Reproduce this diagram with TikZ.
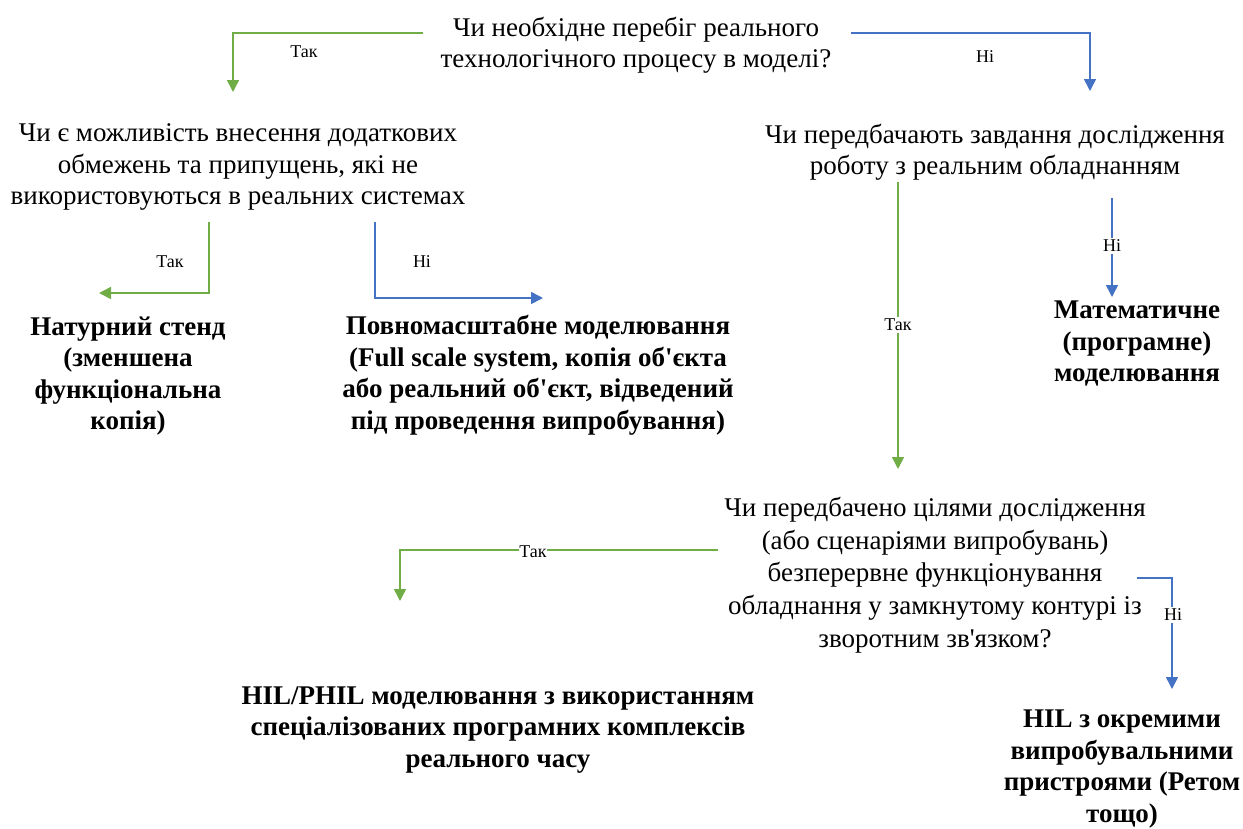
\documentclass[tikz,border=0pt]{standalone}
\usepackage{fontspec}
\setmainfont{Liberation Serif}[Ligatures=TeXOff]
\usetikzlibrary{arrows.meta}
\definecolor{yesgreen}{HTML}{70AD47}
\definecolor{noblue}{HTML}{4472C4}
\begin{document}
\begin{tikzpicture}[x=1pt,y=-1pt,
  question/.style={align=center,inner sep=0pt,font=\fontsize{27}{31.5}\selectfont},
  result/.style={align=center,inner sep=0pt,font=\fontsize{27}{31.5}\selectfont\bfseries},
  tag/.style={inner sep=1pt,font=\fontsize{18}{20}\selectfont},
  ontag/.style={tag,fill=white,inner sep=2pt},
  yes/.style={draw=yesgreen,line width=1.6pt,-{Triangle[length=12pt,width=12pt]},yesgreen},
  no/.style={draw=noblue,line width=1.6pt,-{Triangle[length=12pt,width=12pt]},noblue}]
\useasboundingbox (0,0) rectangle (1243,828);

% questions
\node[question] (q1) at (636,45) {Чи необхідне перебіг реального\\технологічного процесу в моделі?};
\node[question] (q2) at (238,167) {Чи є можливість внесення додаткових\\обмежень та припущень, які не\\використовуються в реальних системах};
\node[question] (q3) at (995,152) {Чи передбачають завдання дослідження\\роботу з реальним обладнанням};
\node[question,font=\fontsize{27}{32.7}\selectfont] (q4) at (935,575) {Чи передбачено цілями дослідження\\(або сценаріями випробувань)\\безперервне функціонування\\обладнання у замкнутому контурі із\\зворотним зв'язком?};

% outcomes
\node[result] (r1) at (128,376) {Натурний стенд\\(зменшена\\функціональна\\копія)};
\node[result] (r2) at (538,375) {Повномасштабне моделювання\\(Full scale system, копія об'єкта\\або реальний об'єкт, відведений\\під проведення випробування)};
\node[result] (r3) at (1137,344) {Математичне\\(програмне)\\моделювання};
\node[result] (r4) at (498,730) {HIL/PHIL моделювання з використанням\\спеціалізованих програмних комплексів\\реального часу};
\node[result] (r5) at (1122,769) {HIL з окремими\\випробувальними\\пристроями (Ретом\\тощо)};

% connector ends
\coordinate (a1s) at (423,33);  \coordinate (a1e) at (233,92);
\coordinate (a2s) at (851,33);  \coordinate (a2e) at (1090,91);
\coordinate (a3s) at (209,222); \coordinate (a3e) at (99,293);
\coordinate (a4s) at (375,222); \coordinate (a4e) at (543,298);
\coordinate (a5s) at (1112,198);\coordinate (a5e) at (1112,297);
\coordinate (a6s) at (898,182); \coordinate (a6e) at (898,469);
\coordinate (a7s) at (718,550); \coordinate (a7e) at (400,601);
\coordinate (a8s) at (1137,578);\coordinate (a8e) at (1172,689);

% connectors
\draw[yes] (a1s) -| (a1e);
\node[tag] (t1) at (304,52) {Так};
\draw[no] (a2s) -| (a2e);
\node[tag] (t2) at (985,57) {Ні};
\draw[yes] (a3s) |- (a3e);
\node[tag] (t3) at (170,262) {Так};
\draw[no] (a4s) |- (a4e);
\node[tag] (t4) at (422,262) {Ні};
\draw[no] (a5s) -- (a5e);
\node[ontag] (t5) at (1112,246) {Ні};
\draw[yes] (a6s) -- (a6e);
\node[ontag] (t6) at (898,325) {Так};
\draw[yes] (a7s) -| (a7e);
\node[ontag,inner sep=0.5pt] (t7) at (533,552) {Так};
\draw[no] (a8s) -| (a8e);
\node[ontag] (t8) at (1173,615) {Ні};
\end{tikzpicture}
\end{document}
